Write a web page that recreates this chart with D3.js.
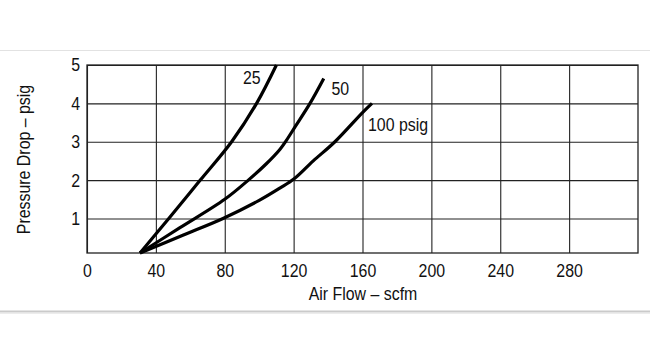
<!DOCTYPE html>
<html>
<head>
<meta charset="utf-8">
<script src="https://cdn.jsdelivr.net/npm/d3@7"></script>
<style>
  html, body { margin: 0; padding: 0; background: #fff; }
  svg { display: block; }
  text { font-family: "Liberation Sans", Arial, sans-serif; fill: #111; }
</style>
</head>
<body>
<svg id="chart" width="650" height="363"></svg>
<script>
// Pressure drop vs. air flow at three inlet pressures
const xTicks = [0, 40, 80, 120, 160, 200, 240, 280];
const yTicks = [1, 2, 3, 4, 5];

const flow25  = [30.8, 47.5, 65.8, 84, 98.5, 110];
const drop25  = [0.1, 1, 2, 3, 4, 5];

const flow50  = [30.8, 54, 80, 93.7, 104, 112, 116, 121, 129.5, 137.5];
const drop50  = [0.1, 0.76, 1.5, 2, 2.42, 2.8, 3.05, 3.4, 4, 4.65];

const flow100 = [30.8, 56, 79, 100, 112, 120.5, 131.4, 144, 160, 165.5];
const drop100 = [0.1, 0.57, 1, 1.47, 1.79, 2.04, 2.5, 3, 3.76, 4];

const seriesLabels = ["25", "50", "100 psig"];

const svg = d3.select("#chart");
const W = 650;
const FS = 18.5;          // type size
const SX = 0.86;          // condensed type
const FONT = "'Liberation Sans', Arial, sans-serif";

const pLeft = 87, pRight = 638, pTop = 65, pBottom = 253;
const x = d3.scaleLinear().domain([0, 320]).range([pLeft, pRight]);
const y = d3.scaleLinear().domain([0.1, 5]).range([pBottom, pTop]);

// page rules
svg.append("line").attr("x1", 0).attr("x2", W).attr("y1", 50.5).attr("y2", 50.5)
  .attr("stroke", "#e2e2e2").attr("stroke-width", 1);
svg.append("line").attr("x1", 0).attr("x2", W).attr("y1", 311.5).attr("y2", 311.5)
  .attr("stroke", "#cacaca").attr("stroke-width", 2);
svg.append("line").attr("x1", 0).attr("x2", W).attr("y1", 313.5).attr("y2", 313.5)
  .attr("stroke", "#ececec").attr("stroke-width", 1);

// grid + x labels
const xAxis = d3.axisBottom(x).tickValues(xTicks).tickFormat(d3.format("d"))
  .tickSize(-(pBottom - pTop)).tickPadding(11);
const gx = svg.append("g").attr("transform", `translate(0,${pBottom})`).call(xAxis);
gx.select(".domain").remove();
gx.selectAll(".tick line").attr("stroke", "#222").attr("stroke-width", 1.1);
gx.selectAll(".tick text")
  .attr("font-size", FS).attr("fill", "#111").style("font-family", FONT)
  .attr("transform", `scale(${SX},1)`);

// grid + y labels
const yAxis = d3.axisLeft(y).tickValues(yTicks).tickFormat(d3.format("d"))
  .tickSize(-(pRight - pLeft)).tickPadding(7);
const gy = svg.append("g").attr("transform", `translate(${pLeft},0)`).call(yAxis);
gy.select(".domain").remove();
gy.selectAll(".tick line").attr("stroke", "#222").attr("stroke-width", 1.1);
gy.selectAll(".tick text")
  .attr("font-size", FS).attr("fill", "#111").style("font-family", FONT)
  .attr("x", 0)
  .attr("transform", `translate(-7,0) scale(${SX},1)`);

// plot frame
svg.append("rect").attr("x", pLeft).attr("y", pTop)
  .attr("width", pRight - pLeft).attr("height", pBottom - pTop)
  .attr("fill", "none").attr("stroke", "#222").attr("stroke-width", 1.3);

// curves
const line = d3.line()
  .x(d => x(d[0])).y(d => y(d[1]))
  .curve(d3.curveCatmullRom.alpha(0.5));

const series = [
  d3.zip(flow25, drop25),
  d3.zip(flow50, drop50),
  d3.zip(flow100, drop100)
];

svg.append("g").selectAll("path").data(series).join("path")
  .attr("d", line)
  .attr("fill", "none")
  .attr("stroke", "#000")
  .attr("stroke-width", 3.2)
  .attr("stroke-linejoin", "round");

// curve labels
const labelPos = [
  { x: 243, y: 83.5 },
  { x: 331.5, y: 94.5 },
  { x: 368, y: 131 }
];
svg.append("g").selectAll("text").data(seriesLabels).join("text")
  .attr("transform", (d, i) => `translate(${labelPos[i].x},${labelPos[i].y}) scale(${SX},1)`)
  .attr("font-size", FS)
  .text(d => d);

// axis titles
svg.append("text")
  .attr("transform", `translate(${(pLeft + pRight) / 2 + 0.5},299.5) scale(${SX},1)`)
  .attr("text-anchor", "middle").attr("font-size", FS)
  .text("Air Flow – scfm");

svg.append("text")
  .attr("transform", `translate(30,${(pTop + pBottom) / 2 + 0.5}) rotate(-90) scale(${SX},1)`)
  .attr("text-anchor", "middle").attr("font-size", FS)
  .text("Pressure Drop – psig");
</script>
</body>
</html>
